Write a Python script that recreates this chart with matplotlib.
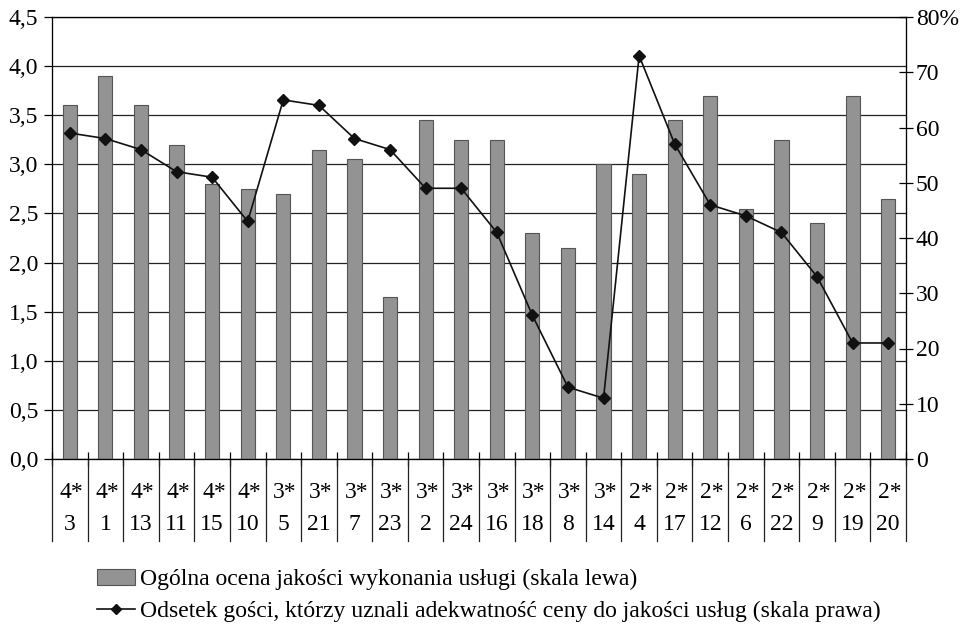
import matplotlib
matplotlib.use("Agg")
import matplotlib.pyplot as plt
from matplotlib.lines import Line2D
from matplotlib.patches import Patch
from matplotlib.ticker import FuncFormatter
import numpy as np

plt.rcParams['font.family'] = ['Liberation Serif', 'DejaVu Serif']

stars = ["4*", "4*", "4*", "4*", "4*", "4*", "3*", "3*", "3*", "3*", "3*", "3*",
         "3*", "3*", "3*", "3*", "2*", "2*", "2*", "2*", "2*", "2*", "2*", "2*"]
hotels = ["3", "1", "13", "11", "15", "10", "5", "21", "7", "23", "2", "24",
          "16", "18", "8", "14", "4", "17", "12", "6", "22", "9", "19", "20"]
quality = [3.6, 3.9, 3.6, 3.2, 2.8, 2.75, 2.7, 3.15, 3.05, 1.65, 3.45, 3.25,
           3.25, 2.3, 2.15, 3.0, 2.9, 3.45, 3.7, 2.55, 3.25, 2.4, 3.7, 2.65]
price_ok = [59, 58, 56, 52, 51, 43, 65, 64, 58, 56, 49, 49,
            41, 26, 13, 11, 73, 57, 46, 44, 41, 33, 21, 21]

label_bar = "Ogólna ocena jakości wykonania usługi (skala lewa)"
label_line = "Odsetek gości, którzy uznali adekwatność ceny do jakości usług (skala prawa)"

FS = 17

fig = plt.figure(figsize=(9.68, 6.27), dpi=100)
ax = fig.add_axes([52 / 968, 1 - 459 / 627, (906 - 52) / 968, (459 - 17) / 627])

x = np.arange(len(quality))
ax.bar(x, quality, width=0.4, color="#939393", edgecolor="#555555", linewidth=0.8, zorder=2)
ax.set_xlim(-0.5, len(quality) - 0.5)
ax.set_ylim(0, 4.5)
ax.set_yticks(np.arange(0, 4.51, 0.5))
ax.yaxis.set_major_formatter(FuncFormatter(lambda v, p: f"{v:.1f}".replace(".", ",")))
ax.grid(axis="y", color="#222222", linewidth=0.9, zorder=0)
ax.set_axisbelow(True)
ax.tick_params(axis="y", direction="out", length=6, labelsize=FS, width=0.9, pad=4)
ax.set_xticks(np.arange(-0.5, len(quality), 1.0))
ax.set_xticklabels([])
ax.tick_params(axis="x", direction="inout", length=10, width=0.9)
for s in ax.spines.values():
    s.set_linewidth(0.9)
    s.set_color("#222222")

ax2 = ax.twinx()
ax2.plot(x, price_ok, color="#111111", linewidth=1.2, marker="D", markersize=6.5,
         markerfacecolor="#111111", zorder=3)
ax2.set_ylim(0, 80)
ax2.set_yticks(np.arange(0, 81, 10))
ax2.set_yticklabels([str(v) if v < 80 else "80%" for v in range(0, 81, 10)])
ax2.tick_params(axis="y", direction="inout", length=10, labelsize=FS, width=0.9, pad=2)

# two-row category labels under the axis with vertical separators
trans = ax.get_xaxis_transform()
ax_h = 459 - 17
for i in range(len(quality)):
    ax.text(i + 0.05, -(492 - 459) / ax_h, stars[i], transform=trans, ha="center", va="center",
            fontsize=FS, clip_on=False)
    ax.text(i, -(524 - 459) / ax_h, hotels[i], transform=trans, ha="center", va="center",
            fontsize=FS, clip_on=False)
for b in np.arange(-0.5, len(quality), 1.0):
    ax.add_line(Line2D([b, b], [0, -(541 - 459) / ax_h], transform=trans, color="#222222",
                       linewidth=0.9, clip_on=False))

handles = [Patch(facecolor="#939393", edgecolor="#555555", linewidth=0.8),
           Line2D([], [], color="#111111", linewidth=1.2, marker="D", markersize=5)]
fig.legend(handles, [label_bar, label_line], loc="upper left",
           bbox_to_anchor=(85 / 968, 1 - 557 / 627), frameon=False, fontsize=FS,
           handlelength=1.6, handletextpad=0.25, labelspacing=0.42, borderpad=0)

fig.savefig("out.png", dpi=100)
